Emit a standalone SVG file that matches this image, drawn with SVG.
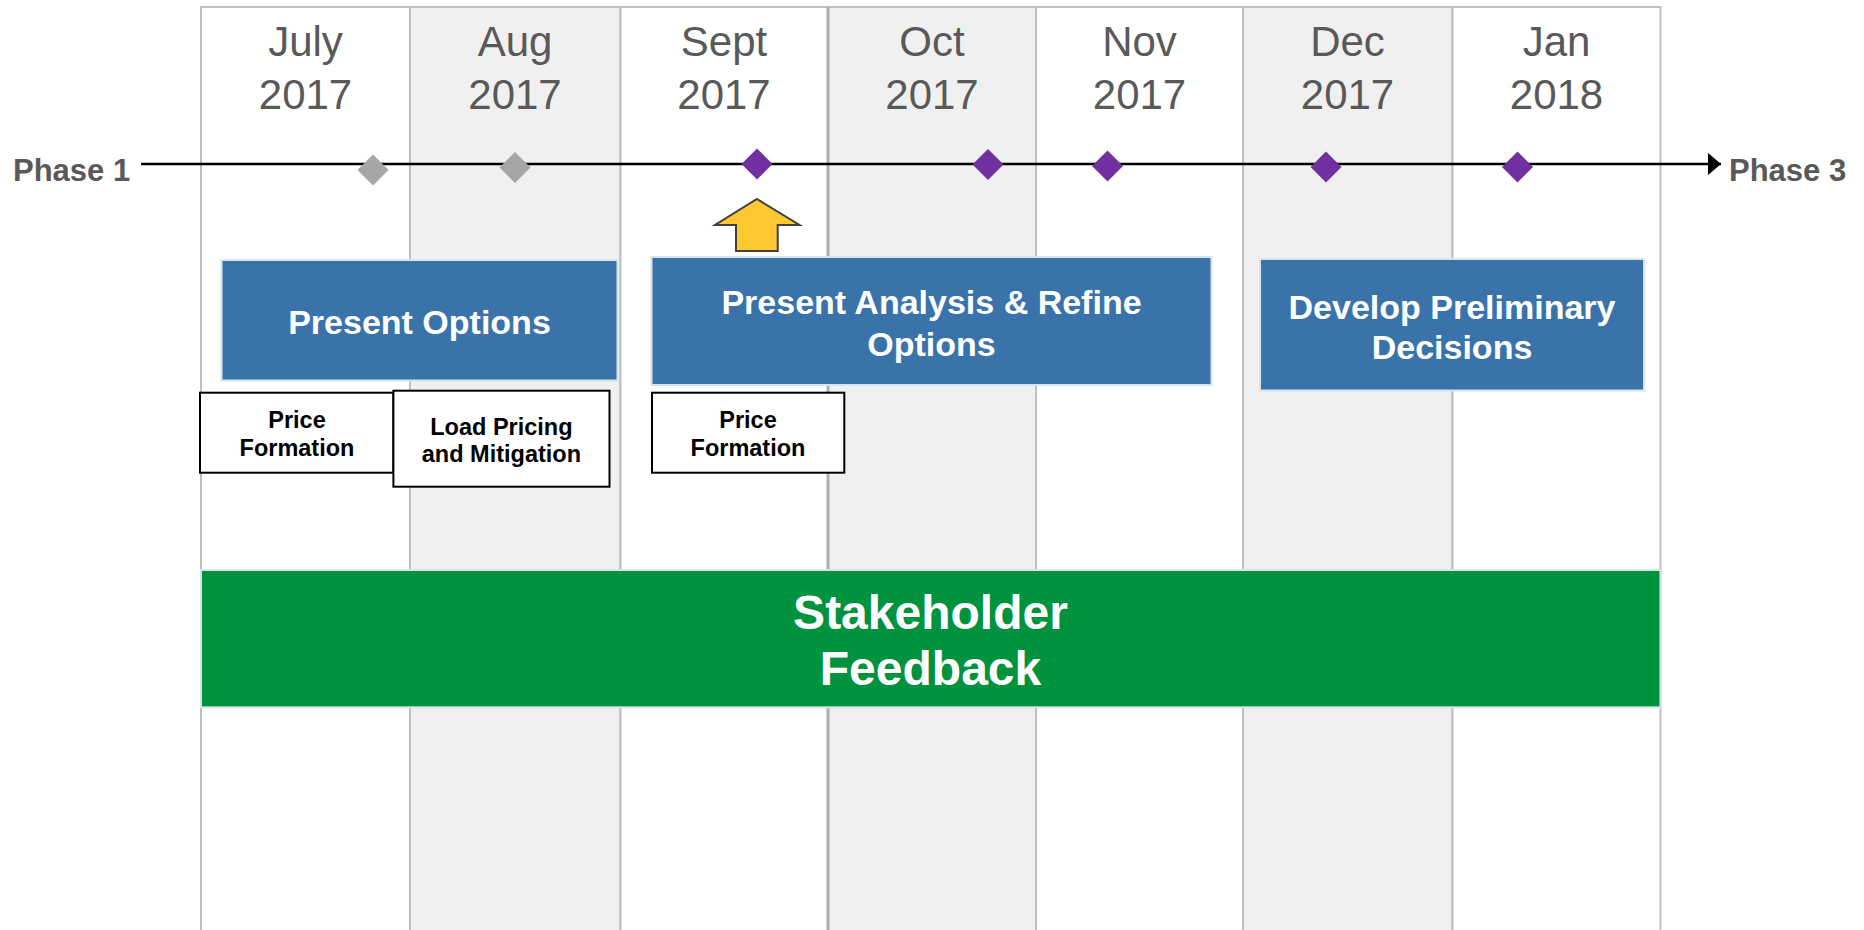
<svg xmlns="http://www.w3.org/2000/svg" width="1864" height="930" viewBox="0 0 1864 930">
<defs>
<style>
.col{stroke:#BFBFBF;stroke-width:2}
.w{fill:#FFFFFF}
.g{fill:#F0F0F0}
.mon{font-family:"Liberation Sans",Arial,sans-serif;font-size:42px;fill:#595959;text-anchor:middle}
.ph{font-family:"Liberation Sans",Arial,sans-serif;font-size:31px;font-weight:bold;fill:#595959}
.blue{fill:#3A73AA;stroke:#D6E4EC;stroke-width:2}
.bt{font-family:"Liberation Sans",Arial,sans-serif;font-size:34px;font-weight:bold;fill:#FFFFFF;text-anchor:middle}
.sb{fill:#FFFFFF;stroke:#000000;stroke-width:2}
.st{font-family:"Liberation Sans",Arial,sans-serif;font-size:23.5px;font-weight:bold;fill:#000000;text-anchor:middle}
.gd{fill:#A6A6A6}
.pd{fill:#7030A0}
</style>
<marker id="ah" markerUnits="userSpaceOnUse" markerWidth="16" markerHeight="24" refX="13" refY="11" orient="auto">
<polygon points="0,0 13,11 0,22" fill="#000000"/>
</marker>
</defs>
<rect width="1864" height="930" fill="#FFFFFF"/>
<g id="columns">
<rect class="w col" x="201" y="7" width="209" height="940"/>
<rect class="g col" x="410" y="7" width="210.5" height="940"/>
<rect class="w col" x="620.5" y="7" width="207.5" height="940"/>
<rect class="g col" x="828" y="7" width="208" height="940"/>
<rect class="w col" x="1036" y="7" width="207" height="940"/>
<rect class="g col" x="1243" y="7" width="209.5" height="940"/>
<rect class="w col" x="1452.5" y="7" width="208" height="940"/>
<line x1="828" y1="7" x2="828" y2="930" stroke="#B0B0B0" stroke-width="3"/>
</g>
<g id="months">
<text class="mon" x="305.5" y="56">July</text><text class="mon" x="305.5" y="109">2017</text>
<text class="mon" x="515" y="56">Aug</text><text class="mon" x="515" y="109">2017</text>
<text class="mon" x="724" y="56">Sept</text><text class="mon" x="724" y="109">2017</text>
<text class="mon" x="932" y="56">Oct</text><text class="mon" x="932" y="109">2017</text>
<text class="mon" x="1139.5" y="56">Nov</text><text class="mon" x="1139.5" y="109">2017</text>
<text class="mon" x="1347.5" y="56">Dec</text><text class="mon" x="1347.5" y="109">2017</text>
<text class="mon" x="1556.5" y="56">Jan</text><text class="mon" x="1556.5" y="109">2018</text>
</g>
<g id="connectors">
<line x1="141" y1="164" x2="1721" y2="164" stroke="#000000" stroke-width="2.5" marker-end="url(#ah)"/>
</g>
<g id="phase1"><text class="ph" x="13" y="181">Phase 1</text></g>
<g id="phase3"><text class="ph" x="1729" y="181">Phase 3</text></g>
<g id="milestones">
<polygon class="gd" points="373,154.5 388.5,170 373,185.5 357.5,170"/>
<polygon class="gd" points="515,152 530.5,167.5 515,183 499.5,167.5"/>
<polygon class="pd" points="757,148.5 772.5,164 757,179.5 741.5,164"/>
<polygon class="pd" points="988,149 1003.5,164.5 988,180 972.5,164.5"/>
<polygon class="pd" points="1107.5,150.5 1123,166 1107.5,181.5 1092,166"/>
<polygon class="pd" points="1326,151.5 1341.5,167 1326,182.5 1310.5,167"/>
<polygon class="pd" points="1517.5,151.5 1533,167 1517.5,182.5 1502,167"/>
</g>
<g id="yellow-arrow">
<polygon points="757,199 799.5,225 777.7,225 777.7,251 736,251 736,225 715,225" fill="#FFC832" stroke="#404040" stroke-width="2"/>
</g>
<g id="present-options">
<rect class="blue" x="221.5" y="260" width="396" height="120.5"/>
<text class="bt" x="419.5" y="333.5">Present Options</text>
</g>
<g id="present-analysis">
<rect class="blue" x="651.5" y="257" width="560" height="128"/>
<text class="bt" x="931.5" y="314">Present Analysis &amp; Refine</text>
<text class="bt" x="931.5" y="355.5">Options</text>
</g>
<g id="develop-preliminary">
<rect class="blue" x="1260" y="259" width="384" height="131.5"/>
<text class="bt" x="1452" y="319">Develop Preliminary</text>
<text class="bt" x="1452" y="359">Decisions</text>
</g>
<g id="price-formation-1">
<rect class="sb" x="200" y="392.7" width="193.4" height="80"/>
<text class="st" x="297" y="428">Price</text>
<text class="st" x="297" y="456">Formation</text>
</g>
<g id="load-pricing">
<rect class="sb" x="393.4" y="390.7" width="216.1" height="96"/>
<text class="st" x="501.4" y="435">Load Pricing</text>
<text class="st" x="501.4" y="461.5">and Mitigation</text>
</g>
<g id="price-formation-2">
<rect class="sb" x="652" y="392.7" width="192.3" height="80"/>
<text class="st" x="748" y="428">Price</text>
<text class="st" x="748" y="456">Formation</text>
</g>
<g id="stakeholder-feedback">
<rect x="201" y="570" width="1459.5" height="137.3" fill="#00923F" stroke="#D6E4EC" stroke-width="2"/>
<text class="bt" x="930.5" y="629" style="font-size:48px">Stakeholder</text>
<text class="bt" x="930.5" y="685" style="font-size:48px">Feedback</text>
</g>
</svg>
